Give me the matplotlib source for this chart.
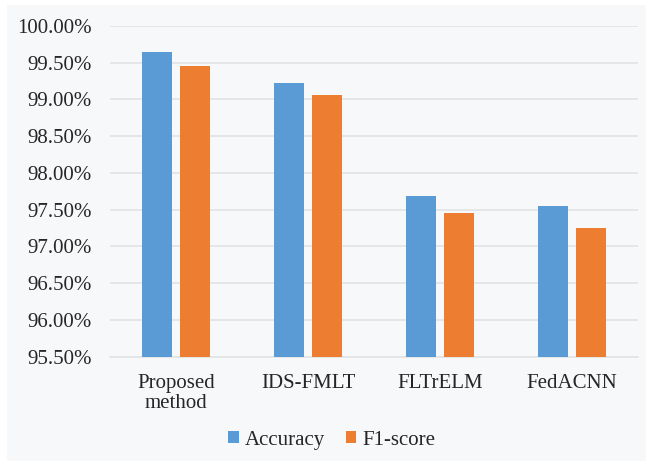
import matplotlib.pyplot as plt
import numpy as np
from matplotlib.patches import Rectangle
from matplotlib.ticker import FuncFormatter

plt.rcParams['font.family'] = ['Liberation Serif', 'DejaVu Serif']

methods = ['Proposed\nmethod', 'IDS-FMLT', 'FLTrELM', 'FedACNN']
accuracy = [99.65, 99.23, 97.68, 97.55]
f1_score = [99.45, 99.06, 97.45, 97.25]

blue = '#5b9bd5'
orange = '#ed7d31'
grid_color = '#e2e3e4'

fig = plt.figure(figsize=(6.46, 4.61), dpi=100)
fig.patch.set_facecolor('white')
# light panel behind the chart, leaving a thin white margin top/left
fig.patches.append(Rectangle((7 / 646, 0), 1, 1 - 5 / 461, transform=fig.transFigure,
                             facecolor='#f7f8f9', edgecolor='none', zorder=-10))

ax = fig.add_axes([110 / 646, 1 - 356.7 / 461, 528 / 646, (356.7 - 26) / 461])
ax.set_facecolor('none')

x = np.arange(len(methods))
w = 0.224
off = 0.142
b1 = ax.bar(x - off, accuracy, w, color=blue, label='Accuracy', zorder=3)
b2 = ax.bar(x + off, f1_score, w, color=orange, label='F1-score', zorder=3)

ax.set_xlim(-0.5, len(methods) - 0.5)
ax.set_ylim(95.5, 100.0)
ax.set_yticks(np.arange(95.5, 100.01, 0.5))
ax.yaxis.set_major_formatter(FuncFormatter(lambda v, p: f'{v:.2f}%'))
ax.set_xticks(x)
ax.set_xticklabels(methods, linespacing=1.05)

ax.grid(axis='y', color=grid_color, linewidth=1.2, zorder=0)
for s in ['top', 'right', 'left']:
    ax.spines[s].set_visible(False)
ax.spines['bottom'].set_color(grid_color)
ax.spines['bottom'].set_linewidth(1.2)

ax.tick_params(axis='both', length=0, labelsize=15, colors='#262626')
ax.tick_params(axis='y', pad=13)
ax.tick_params(axis='x', pad=12.5)

fig.legend(handles=[b1, b2], loc='center', bbox_to_anchor=(332 / 646, 1 - 440 / 461),
           ncol=2, frameon=False, fontsize=15, handlelength=0.5, handleheight=0.5,
           handletextpad=0.3, columnspacing=1.0, labelcolor='#262626')

fig.savefig('out.png', dpi=100, facecolor=fig.get_facecolor())
